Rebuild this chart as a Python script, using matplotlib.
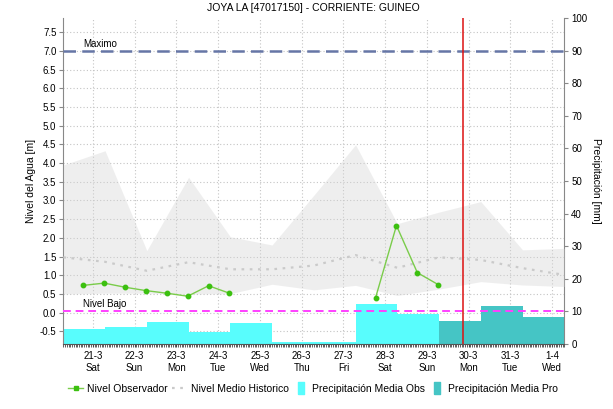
import numpy as np
import pandas as pd
import matplotlib
matplotlib.use('Agg')
import matplotlib.pyplot as plt
import matplotlib.dates as mdates
from matplotlib.transforms import blended_transform_factory
from matplotlib.lines import Line2D

plt.rcParams['font.family'] = ['Liberation Sans', 'DejaVu Sans']

# --- data ---
title = 'JOYA LA [47017150] - CORRIENTE: GUINEO'
day_ticks = ['2020-03-21', '2020-03-22', '2020-03-23', '2020-03-24', '2020-03-25', '2020-03-26',
             '2020-03-27', '2020-03-28', '2020-03-29', '2020-03-30', '2020-03-31', '2020-04-01']
tick_labels = ['21-3\nSat', '22-3\nSun', '23-3\nMon', '24-3\nTue', '25-3\nWed', '26-3\nThu',
               '27-3\nFri', '28-3\nSat', '29-3\nSun', '30-3\nMon', '31-3\nTue', '1-4\nWed']

# observed level, every 12 h starting 20-3 18:30 (gap = no data)
obs_start = '2020-03-20 18:30'
obs_level = [0.73, 0.79, 0.68, 0.59, 0.52, 0.44, 0.72, 0.52,
             np.nan, np.nan, np.nan, np.nan, np.nan, np.nan,
             0.40, 2.33, 1.07, 0.75]

# historic stats, daily at 07:00 from 20-3
hist_start = '2020-03-20 07:00'
hist_max = [3.95, 4.33, 1.66, 3.62, 2.03, 1.81, 3.14, 4.49, 2.38, 2.69, 2.97, 1.68, 1.72]
hist_min = [0.50, 0.52, 0.52, 0.50, 0.51, 0.76, 0.61, 0.73, 0.46, 0.63, 0.83, 0.74, 0.70]
hist_mean = [1.48, 1.36, 1.12, 1.35, 1.16, 1.16, 1.26, 1.54, 1.20, 1.48, 1.41, 1.19, 1.01]

# daily precipitation (07:00 to 07:00)
precip_obs = [4.5, 5.2, 6.7, 3.6, 6.3, 0.5, 0.6, 12.3, 9.2]
precip_pro = [7.0, 11.6, 8.3]

nivel_maximo = 7.0
nivel_bajo = 0.05
now = '2020-03-29 21:00'

# --- build x positions ---
obs_t = pd.date_range(obs_start, periods=len(obs_level), freq='12h')
hist_t = pd.date_range(hist_start, periods=len(hist_max), freq='D')
bar_t = pd.date_range(hist_start, periods=len(precip_obs) + len(precip_pro), freq='D')
bar_obs_t = bar_t[:len(precip_obs)]
bar_pro_t = bar_t[len(precip_obs):]

c_obs = '#58fdfd'
c_pro = '#45c5c5'
c_line = '#7acc4a'
c_mark = '#3cc010'
c_mean = '#cacaca'

fig = plt.figure(figsize=(6.13, 4.09), dpi=100)
axp = fig.add_axes([0.1033, 0.159, 0.8173, 0.797])
ax = axp.twinx()

# precipitation on the lower axes, right side
axp.bar(mdates.date2num(bar_obs_t), precip_obs, width=1.0, align='edge', color=c_obs, zorder=2)
axp.bar(mdates.date2num(bar_pro_t), precip_pro, width=1.0, align='edge', color=c_pro, zorder=2)
axp.set_ylim(0, 100)
axp.set_yticks(np.arange(0, 101, 10))
axp.yaxis.tick_right()
axp.yaxis.set_label_position('right')
axp.set_ylabel('Precipitación [mm]', rotation=270, labelpad=10, fontsize=7.5)

# level axes on top, left side
ax.yaxis.tick_left()
ax.yaxis.set_label_position('left')
ax.set_ylim(-0.837, 7.88)
lev_ticks = np.arange(-0.5, 7.51, 0.5)
ax.set_yticks(lev_ticks)
ax.set_yticklabels([f'{v:.1f}' for v in lev_ticks])
ax.set_ylabel('Nivel del Agua [m]', labelpad=3, fontsize=7.5)

# grid under the bars
grid_kw = dict(color='#c4c4c4', lw=0.8, ls=(0, (1, 2)), zorder=1)
trans = blended_transform_factory(axp.transAxes, ax.transData)
for v in lev_ticks:
    axp.plot([0, 1], [v, v], transform=trans, **grid_kw)
for d in pd.to_datetime(day_ticks):
    axp.axvline(mdates.date2num(d), **grid_kw)

ax.fill_between(hist_t, hist_min, hist_max, color='#d4d4d4', alpha=0.38, lw=0, zorder=1)
ax.plot(hist_t, hist_mean, color=c_mean, lw=1.6, ls=(0, (1.2, 2.5)), zorder=2)
ax.plot(obs_t, obs_level, color=c_line, lw=1.0, marker='o', ms=3.2,
        mfc=c_mark, mec=c_mark, zorder=4)

ax.axhline(nivel_maximo, color='#6676a6', lw=1.8, ls=(0, (5, 2.5)), zorder=3)
ax.axhline(nivel_bajo, color='#ff40ff', lw=1.4, ls=(0, (4, 2.5)), zorder=3)
tr_txt = blended_transform_factory(ax.transAxes, ax.transData)
ax.text(0.04, nivel_maximo + 0.04, 'Maximo', transform=tr_txt, fontsize=7, va='bottom', ha='left')
ax.text(0.04, nivel_bajo + 0.04, 'Nivel Bajo', transform=tr_txt, fontsize=7, va='bottom', ha='left')
ax.axvline(pd.Timestamp(now), color='#dd1111', lw=1.1, zorder=5)

# x axis
axp.set_xlim(pd.Timestamp('2020-03-20 07:00'), pd.Timestamp('2020-04-01 07:00'))
axp.set_xticks(mdates.date2num(pd.to_datetime(day_ticks)))
axp.set_xticklabels(tick_labels, fontsize=7, linespacing=1.2)
axp.xaxis.set_minor_locator(mdates.HourLocator(interval=1))
axp.tick_params(axis='x', which='major', length=2, color='#444444', pad=3)
axp.tick_params(axis='x', which='minor', length=2, width=0.6, color='#444444')
axp.tick_params(axis='y', length=3, color='#888888', labelsize=7, pad=2)
ax.tick_params(axis='y', length=3, color='#888888', labelsize=7, pad=2)

for s in ax.spines.values():
    s.set_visible(False)
axp.spines['top'].set_visible(False)
axp.spines['left'].set_color('#888888')
axp.spines['right'].set_color('#888888')
axp.spines['bottom'].set_color('#555555')

fig.text(0.5115, 0.98, title, ha='center', va='center', fontsize=7.5)

# legend: narrow tall boxes for the precipitation entries
box = [(-0.3, -0.5), (0.3, -0.5), (0.3, 0.5), (-0.3, 0.5), (-0.3, -0.5)]
handles = [Line2D([], [], color=c_line, marker='s', ms=3, mfc=c_mark, mec=c_mark, lw=1.0),
           Line2D([], [], color=c_mean, lw=1.6, ls=(0, (1.2, 2.5))),
           Line2D([], [], ls='', marker=box, ms=8, color=c_obs, mec=c_obs),
           Line2D([], [], ls='', marker=box, ms=8, color=c_pro, mec=c_pro)]
labels = ['Nivel Observador', 'Nivel Medio Historico', 'Precipitación Media Obs', 'Precipitación Media Pro']
fig.legend(handles, labels, loc='center', bbox_to_anchor=(0.511, 0.049), ncol=4, frameon=False,
           fontsize=7.5, handlelength=1.4, handletextpad=0.35, columnspacing=0.5)

fig.savefig('out.png', dpi=100)
